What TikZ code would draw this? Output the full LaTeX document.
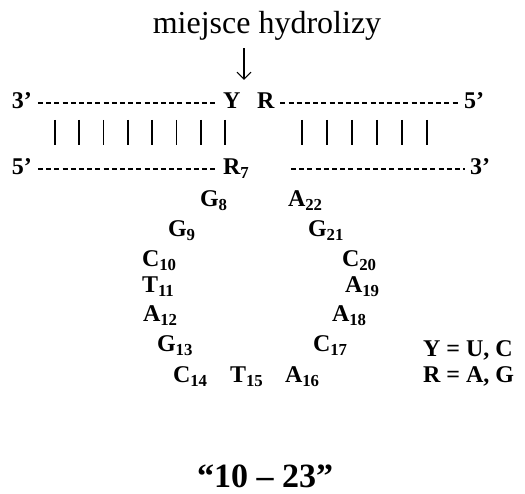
\documentclass[tikz,border=0pt]{standalone}
\usepackage{fontspec}
\setmainfont{Liberation Serif}
\usetikzlibrary{arrows.meta}
\newcommand\nuc[2]{#1\textsubscript{#2}}

\begin{document}
\begin{tikzpicture}[x=1pt, y=1pt,
    base/.style={inner sep=0pt, outer sep=0pt, anchor=base west,
      font=\fontsize{24}{28}\selectfont\bfseries},
    strand/.style={line width=2.3pt, dash pattern=on 5pt off 3.2pt,
      shorten <=6pt, shorten >=5pt},
    pair/.style={line width=1.7pt},
    cut/.style={-{Straight Barb[length=7pt,width=14pt]}, line width=1.1pt}]
  \useasboundingbox (0,0) rectangle (525,-494);
  \def\yt{-109}   % baseline of the upper strand
  \def\yb{-175}   % baseline of the lower strand
  % cleavage site
  \node[inner sep=0pt, anchor=base, font=\fontsize{32}{36}\selectfont]
    (title) at (267,-34) {miejsce hydrolizy};
  \coordinate (site) at (244,-80);
  \draw[cut, shorten <=7pt] (title.south -| site) -- (site);
  % upper strand (substrate)
  \node[base] (t3) at (12,\yt) {3’};
  \node[base] (Y) at (223,\yt) {Y};
  \node[base] (R) at (257,\yt) {R};
  \node[base] (t5) at (464,\yt) {5’};
  \draw[strand] ([yshift=6pt]t3.base east) -- ([yshift=6pt]Y.base west);
  \draw[strand] ([yshift=6pt]R.base east) -- ([yshift=6pt]t5.base west);
  % base pairs
  \foreach \i in {0,...,7}
    \draw[pair] ({55+24.3*\i},-120) -- ++(0,-25);
  \foreach \i in {0,...,5}
    \draw[pair] ({302+25*\i},-120) -- ++(0,-25);
  % lower strand (enzyme arms)
  \node[base] (b5) at (12,\yb) {5’};
  \node[base] (R7) at (223,\yb) {\nuc{R}{7}};
  \node[base] (b3) at (470,\yb) {3’};
  \coordinate (gap) at (291,\yb+6);
  \draw[strand] ([yshift=6pt]b5.base east) -- ([yshift=6pt]R7.base west);
  \draw[strand, shorten <=0pt] (gap) -- ([yshift=6pt]b3.base west);
  % catalytic loop
  \node[base] (G8)  at (200,-207) {\nuc{G}{8}};
  \node[base] (G9)  at (168,-237) {\nuc{G}{9}};
  \node[base] (C10) at (142,-267) {\nuc{C}{10}};
  \node[base] (T11) at (142,-293) {\nuc{T}{11}};
  \node[base] (A12) at (143,-322) {\nuc{A}{12}};
  \node[base] (G13) at (157,-352) {\nuc{G}{13}};
  \node[base] (C14) at (173,-383) {\nuc{C}{14}};
  \node[base] (T15) at (230,-383) {\nuc{T}{15}};
  \node[base] (A16) at (285,-383) {\nuc{A}{16}};
  \node[base] (C17) at (313,-352) {\nuc{C}{17}};
  \node[base] (A18) at (332,-322) {\nuc{A}{18}};
  \node[base] (A19) at (345,-293) {\nuc{A}{19}};
  \node[base] (C20) at (342,-267) {\nuc{C}{20}};
  \node[base] (G21) at (308,-237) {\nuc{G}{21}};
  \node[base] (A22) at (288,-207) {\nuc{A}{22}};
  % legend
  \node[base] (keyY) at (423,-357) {Y = U, C};
  \node[base] (keyR) at (423,-383) {R = A, G};
  \node[inner sep=0pt, anchor=base, font=\fontsize{34}{40}\selectfont\bfseries]
    (name) at (265,-487) {“10 – 23”};
\end{tikzpicture}
\end{document}
